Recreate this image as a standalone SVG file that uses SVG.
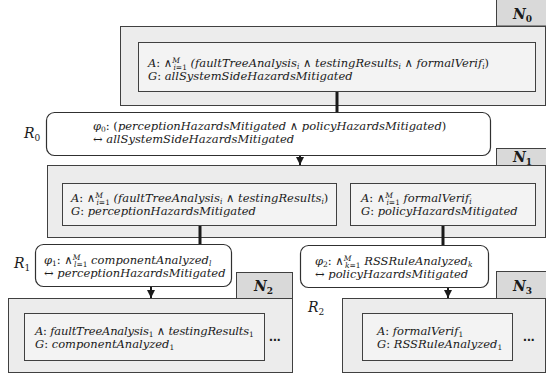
<svg xmlns="http://www.w3.org/2000/svg" width="546" height="375" viewBox="0 0 546 375">
  <style>
    .outer { fill: #ececec; stroke: #404040; stroke-width: 1; }
    .inner { fill: #f3f3f3; stroke: #404040; stroke-width: 1; }
    .tab { fill: #d9d9d9; stroke: #404040; stroke-width: 1; }
    .rule { fill: #ffffff; stroke: #303030; stroke-width: 1.2; }
    .t { font-family: "DejaVu Serif", "Liberation Serif", serif; font-style: italic; font-size: 11.5px; fill: #1a1a1a; }
    .tight { letter-spacing: -0.2px; }
    .s { font-size: 7.5px; }
    .n { font-style: normal; }
    .op { font-style: normal; }
    .lbl { font-family: "DejaVu Serif", "Liberation Serif", serif; font-style: italic; font-size: 14px; fill: #1a1a1a; }
    .lbl .s { font-size: 9px; font-style: normal; }
    .nlbl { font-family: "DejaVu Serif", "Liberation Serif", serif; font-style: italic; font-weight: bold; font-size: 14px; fill: #1a1a1a; }
    .nlbl .s { font-size: 9px; font-style: normal; }
    .dots { font-family: "Liberation Sans", sans-serif; font-weight: bold; font-size: 14px; fill: #1a1a1a; }
    .link { stroke: #1a1a1a; stroke-width: 3; fill: none; }
    .arrow { stroke: #1a1a1a; stroke-width: 2; fill: none; marker-end: url(#head); }
  </style>
  <defs>
    <marker id="head" viewBox="0 0 10 10" refX="10" refY="5" markerWidth="4" markerHeight="4" markerUnits="strokeWidth" orient="auto">
      <path d="M0,0 L10,5 L0,10 Z" fill="#1a1a1a"/>
    </marker>
  </defs>

  <!-- N0 -->
  <g id="N0">
    <rect class="tab" x="496.5" y="-1" width="50" height="27"/>
    <text class="nlbl" x="513" y="19">N<tspan class="s" dy="3">0</tspan></text>
    <rect class="outer" x="120.5" y="26.5" width="425" height="79"/>
    <rect class="inner" x="138.5" y="42.5" width="397" height="49"/>
    <text class="t" x="148" y="67">A<tspan class="op">: ∧</tspan><tspan class="s" dy="-4">M</tspan><tspan class="s" dx="-6.5" dy="6.5">i<tspan class="n">=1</tspan></tspan><tspan dy="-2.5"> (faultTreeAnalysis</tspan><tspan class="s" dy="2">i</tspan><tspan class="op" dy="-2"> ∧ </tspan>testingResults<tspan class="s" dy="2">i</tspan><tspan class="op" dy="-2"> ∧ </tspan>formalVerif<tspan class="s" dy="2">i</tspan><tspan class="op" dy="-2">)</tspan></text>
    <text class="t" x="148" y="80">G<tspan class="op">: </tspan>allSystemSideHazardsMitigated</text>
  </g>

  <!-- R0 -->
  <g id="R0">
    <text class="lbl" x="24" y="138">R<tspan class="s" dy="3">0</tspan></text>
    <rect class="rule" x="46.5" y="112.5" width="444" height="43" rx="8"/>
    <text class="t" x="93" y="130">φ<tspan class="s n" dy="2">0</tspan><tspan class="op" dy="-2">: (</tspan>perceptionHazardsMitigated<tspan class="op"> ∧ </tspan>policyHazardsMitigated<tspan class="op">)</tspan></text>
    <text class="t" x="93" y="143"><tspan class="op">↔ </tspan>allSystemSideHazardsMitigated</text>
  </g>

  <!-- N1 -->
  <g id="N1">
    <rect class="tab" x="496.5" y="148.5" width="50" height="17"/>
    <text class="nlbl" x="513" y="162">N<tspan class="s" dy="3">1</tspan></text>
    <rect class="outer" x="47.5" y="165.5" width="498" height="72"/>
    <rect class="inner" x="62.5" y="183.5" width="274" height="42"/>
    <text class="t" x="71" y="202">A<tspan class="op">: ∧</tspan><tspan class="s" dy="-4">M</tspan><tspan class="s" dx="-6.5" dy="6.5">i<tspan class="n">=1</tspan></tspan><tspan dy="-2.5"> (faultTreeAnalysis</tspan><tspan class="s" dy="2">i</tspan><tspan class="op" dy="-2"> ∧ </tspan>testingResults<tspan class="s" dy="2">i</tspan><tspan class="op" dy="-2">)</tspan></text>
    <text class="t" x="71" y="215">G<tspan class="op">: </tspan>perceptionHazardsMitigated</text>
    <rect class="inner" x="350.5" y="183.5" width="185" height="42"/>
    <text class="t" x="361" y="202">A<tspan class="op">: ∧</tspan><tspan class="s" dy="-4">M</tspan><tspan class="s" dx="-6.5" dy="6.5">i<tspan class="n">=1</tspan></tspan><tspan dy="-2.5"> formalVerif</tspan><tspan class="s" dy="2">i</tspan></text>
    <text class="t" x="361" y="215">G<tspan class="op">: </tspan>policyHazardsMitigated</text>
  </g>

  <!-- R1 -->
  <g id="R1">
    <text class="lbl" x="14" y="268">R<tspan class="s" dy="3">1</tspan></text>
    <rect class="rule" x="35.5" y="244.5" width="196" height="42" rx="8"/>
    <text class="t" x="44" y="264">φ<tspan class="s n" dy="2">1</tspan><tspan class="op" dy="-2">: ∧</tspan><tspan class="s" dy="-4">M</tspan><tspan class="s" dx="-6.5" dy="6.5">l<tspan class="n">=1</tspan></tspan><tspan dy="-2.5"> componentAnalyzed</tspan><tspan class="s" dy="2">l</tspan></text>
    <text class="t" x="44" y="277"><tspan class="op">↔ </tspan>perceptionHazardsMitigated</text>
  </g>

  <!-- R2 -->
  <g id="R2">
    <text class="lbl" x="308" y="312">R<tspan class="s" dy="3">2</tspan></text>
    <rect class="rule" x="300.5" y="245.5" width="188" height="42" rx="8"/>
    <text class="t" x="315" y="265">φ<tspan class="s n" dy="2">2</tspan><tspan class="op" dy="-2">: ∧</tspan><tspan class="s" dy="-4">M</tspan><tspan class="s" dx="-6.5" dy="6.5">k<tspan class="n">=1</tspan></tspan><tspan dy="-2.5"> RSSRuleAnalyzed</tspan><tspan class="s" dy="2">k</tspan></text>
    <text class="t" x="315" y="278"><tspan class="op">↔ </tspan>policyHazardsMitigated</text>
  </g>

  <!-- N2 -->
  <g id="N2">
    <rect class="tab" x="236.5" y="272.5" width="56" height="26"/>
    <text class="nlbl" x="254" y="291">N<tspan class="s" dy="3">2</tspan></text>
    <rect class="outer" x="8.5" y="298.5" width="284" height="74"/>
    <rect class="inner" x="24.5" y="313.5" width="240" height="47"/>
    <text class="t tight" x="35" y="335">A<tspan class="op">: </tspan>faultTreeAnalysis<tspan class="s n" dy="2">1</tspan><tspan class="op" dy="-2"> ∧ </tspan>testingResults<tspan class="s n" dy="2">1</tspan></text>
    <text class="t" x="35" y="348">G<tspan class="op">: </tspan>componentAnalyzed<tspan class="s n" dy="2">1</tspan></text>
    <text class="dots" x="269" y="341">...</text>
  </g>

  <!-- N3 -->
  <g id="N3">
    <rect class="tab" x="496.5" y="271.5" width="50" height="27"/>
    <text class="nlbl" x="513" y="291">N<tspan class="s" dy="3">3</tspan></text>
    <rect class="outer" x="342.5" y="298.5" width="203" height="74"/>
    <rect class="inner" x="362.5" y="313.5" width="150" height="47"/>
    <text class="t" x="377" y="335">A<tspan class="op">: </tspan>formalVerif<tspan class="s n" dy="2">1</tspan></text>
    <text class="t" x="377" y="348">G<tspan class="op">: </tspan>RSSRuleAnalyzed<tspan class="s n" dy="2">1</tspan></text>
    <text class="dots" x="523" y="341">...</text>
  </g>

  <!-- connectors -->
  <g id="connectors">
    <line class="link" x1="337" y1="92" x2="337" y2="112"/>
    <line class="arrow" x1="300" y1="156" x2="300" y2="165"/>
    <line class="link" x1="200" y1="226" x2="200" y2="244"/>
    <line class="arrow" x1="151" y1="287" x2="151" y2="298"/>
    <line class="link" x1="443" y1="226" x2="443" y2="245"/>
    <line class="arrow" x1="448" y1="288" x2="448" y2="298"/>
  </g>
</svg>
